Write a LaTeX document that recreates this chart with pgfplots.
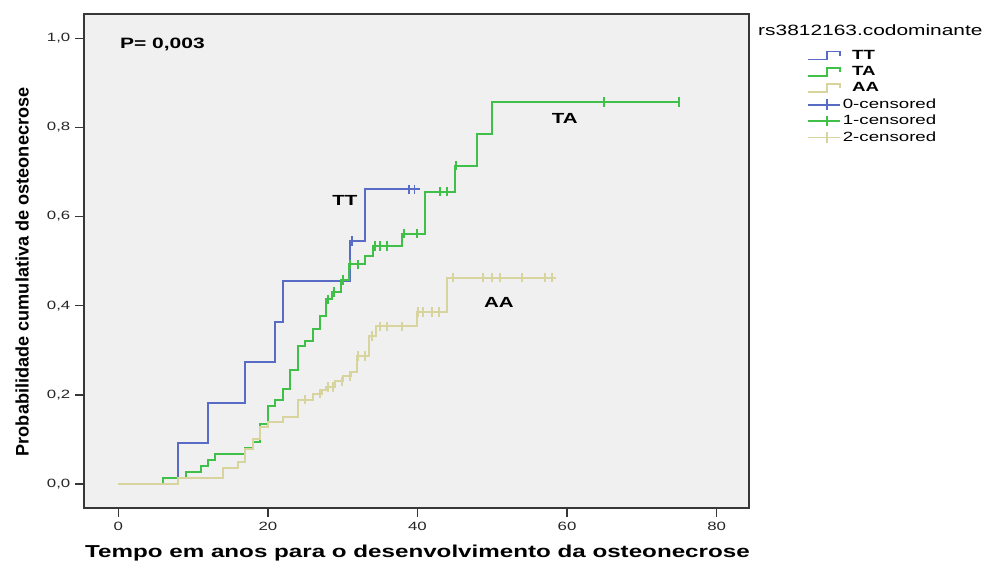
\documentclass[border=0pt]{standalone}
\usepackage{fontspec}
\setmainfont{Liberation Sans}[FakeStretch=1.4]
\newfontfamily\yfont{Liberation Sans}
\usepackage{pgfplots}
\pgfplotsset{compat=1.18}
\definecolor{cTT}{RGB}{88,108,198}
\definecolor{cTA}{RGB}{64,192,72}
\definecolor{cAA}{RGB}{216,212,158}
\definecolor{bgc}{RGB}{240,240,240}
\definecolor{axc}{RGB}{55,55,55}
\pgfplotsset{
  stepTT/.style={legend image code/.code={\draw[cTT,line width=1.4pt] (0pt,-3pt) -- (14pt,-3pt) -- (14pt,3pt) -- (24pt,3pt) -- (24pt,0pt);}},
  stepTA/.style={legend image code/.code={\draw[cTA,line width=1.4pt] (0pt,-3pt) -- (14pt,-3pt) -- (14pt,3pt) -- (24pt,3pt) -- (24pt,0pt);}},
  stepAA/.style={legend image code/.code={\draw[cAA,line width=1.4pt] (0pt,-3pt) -- (14pt,-3pt) -- (14pt,3pt) -- (24pt,3pt) -- (24pt,0pt);}},
  cenTT/.style={legend image code/.code={\draw[cTT,line width=1.4pt] (0pt,0pt) -- (24pt,0pt) (14pt,-4pt) -- (14pt,4pt);}},
  cenTA/.style={legend image code/.code={\draw[cTA,line width=1.4pt] (0pt,0pt) -- (24pt,0pt) (14pt,-4pt) -- (14pt,4pt);}},
  cenAA/.style={legend image code/.code={\draw[cAA,line width=1.4pt] (0pt,0pt) -- (24pt,0pt) (14pt,-4pt) -- (14pt,4pt);}},
}
\begin{document}
\begin{tikzpicture}
\begin{axis}[
  at={(0,0)}, anchor=south west,
  scale only axis, width=498.75pt, height=370.5pt,
  xmin=-4.58, xmax=84.33, ymin=-0.0538, ymax=1.0545,
  clip mode=individual,
  axis background/.style={fill=bgc},
  axis line style={axc, line width=1.2pt},
  tick style={axc, line width=1pt},
  major tick length=6.75pt,
  tick align=outside,
  xtick pos=lower, ytick pos=lower,
  xtick={0,20,40,60,80},
  ytick={0,0.2,0.4,0.6,0.8,1},
  /pgf/number format/assume math mode=true,
  yticklabel style={/pgf/number format/.cd, fixed, fixed zerofill, precision=1, use comma},
  ticklabel style={font=\fontsize{9}{10}\selectfont, text=black!85},
  xlabel={Tempo em anos para o desenvolvimento da osteonecrose},
  xlabel style={at={(axis description cs:0.5015,-0.101)}, anchor=base, font=\bfseries\fontsize{12.95}{14}\selectfont},
  ylabel={Probabilidade cumulativa de osteonecrose},
  ylabel style={at={(axis description cs:-0.0932,0.478)}, anchor=center, font=\yfont\bfseries\fontsize{13.6}{15}\selectfont},
  legend style={at={(axis description cs:1.0872,0.933)}, anchor=north west, draw=none, fill=none, inner sep=0pt,
    row sep=0pt, font=\fontsize{10}{11}\selectfont,
    nodes={inner sep=1.3pt, text height=7.5pt, text depth=2.2pt}},
  legend cell align=left,
]
\addplot[const plot, cTT, line width=1.5pt, forget plot] coordinates {
(0,0) (8,0.0909) (12,0.1818) (17,0.2727) (21,0.3636) (22,0.4545) (31,0.5455) (33,0.6612) (40.4,0.6612)};
\addplot[const plot, cTA, line width=1.5pt, forget plot] coordinates {
(0,0) (6,0.0135) (9,0.027) (11,0.041) (12,0.054) (13,0.068) (17,0.080) (18,0.094) (19,0.134) (20,0.174) (21,0.188) (22,0.213) (23,0.255) (24,0.309) (25,0.321) (26,0.348) (27,0.377) (27.8,0.414) (28.6,0.431) (29.8,0.458) (30.8,0.493) (33,0.512) (34,0.534) (37.9,0.562) (41,0.656) (45,0.714) (48,0.786) (50,0.857) (75,0.857)};
\addplot[const plot, cAA, line width=1.5pt, forget plot] coordinates {
(0,0) (8,0.0143) (14,0.036) (16,0.050) (17,0.078) (18,0.100) (19,0.129) (20,0.140) (22,0.150) (24,0.189) (26,0.203) (27.2,0.212) (27.8,0.218) (29,0.230) (30.1,0.242) (31.1,0.251) (31.9,0.287) (33.5,0.332) (34.4,0.354) (39.9,0.386) (43.9,0.463) (58.5,0.463)};
\addplot[only marks, mark=|, mark size=3.5pt, cTT, mark options={line width=1.4pt}, forget plot] coordinates {
(31.2,0.5455) (38.9,0.6612) (39.6,0.6612)};
\addplot[only marks, mark=|, mark size=3.5pt, cTA, mark options={line width=1.4pt}, forget plot] coordinates {
(28.0,0.414) (28.8,0.431) (30.0,0.458) (31.0,0.493) (32.0,0.493) (34.3,0.534) (35.0,0.534) (35.9,0.534) (38.2,0.562) (39.9,0.562) (43.0,0.656) (43.9,0.656) (45.1,0.714) (65,0.857) (75,0.857)};
\addplot[only marks, mark=|, mark size=3.5pt, cAA, mark options={line width=1.4pt}, forget plot] coordinates {
(25,0.189) (27.0,0.203) (28.0,0.218) (28.7,0.218) (29.9,0.230) (31.0,0.242) (32.1,0.287) (33.0,0.287) (33.9,0.332) (35.0,0.354) (35.9,0.354) (37.9,0.354) (40.1,0.386) (40.8,0.386) (41.9,0.386) (42.9,0.386) (44.8,0.463) (48.8,0.463) (50.0,0.463) (51.0,0.463) (54.0,0.463) (57.0,0.463) (58.0,0.463)};
\addlegendimage{stepTT}\addlegendentry{\hspace{7pt}\textbf{TT}}
\addlegendimage{stepTA}\addlegendentry{\hspace{7pt}\textbf{TA}}
\addlegendimage{stepAA}\addlegendentry{\hspace{7pt}\textbf{AA}}
\addlegendimage{cenTT}\addlegendentry{0-censored}
\addlegendimage{cenTA}\addlegendentry{1-censored}
\addlegendimage{cenAA}\addlegendentry{2-censored}
\node[font=\bfseries\fontsize{11.25}{12}\selectfont] at (axis cs:5.9,0.987) {P= 0,003};
\node[font=\bfseries\fontsize{11}{12}\selectfont] at (axis cs:30.3,0.637) {TT};
\node[font=\bfseries\fontsize{11}{12}\selectfont] at (axis cs:59.7,0.821) {TA};
\node[font=\bfseries\fontsize{11}{12}\selectfont] at (axis cs:50.9,0.408) {AA};
\node[anchor=west, inner sep=0pt, font=\fontsize{11.2}{12}\selectfont] at (axis description cs:1.0135,0.9676) {rs3812163.codominante};
\end{axis}
\pgfresetboundingbox
\useasboundingbox (-63pt,-41.25pt) rectangle (674.25pt,381pt);
\end{tikzpicture}
\end{document}
